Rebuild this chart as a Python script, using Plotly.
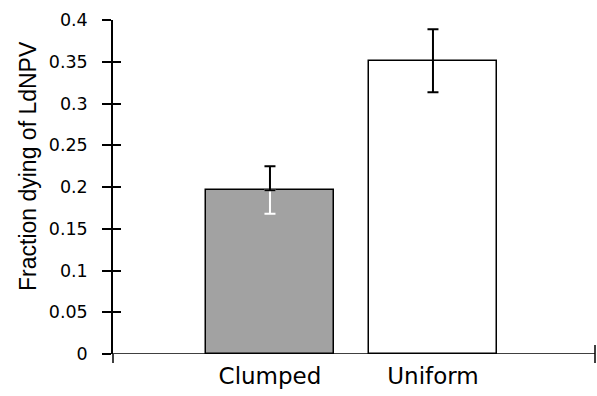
import plotly.graph_objects as go

categories = ["Clumped", "Uniform"]
values = [0.196, 0.351]
err_up = [0.029, 0.038]
err_down = [0.028, 0.0375]
bar_colors = ["#a2a2a2", "#ffffff"]
y_ticks = [0, 0.05, 0.1, 0.15, 0.2, 0.25, 0.3, 0.35, 0.4]
y_tick_text = ["0", "0.05", "0.1", "0.15", "0.2", "0.25", "0.3", "0.35", "0.4"]
y_title = "Fraction dying of LdNPV"

W, H = 597, 396
ml, mr, mt, mb = 113, 2, 20, 42
x_range = [-0.963, 1.994]

fig = go.Figure()
fig.add_trace(go.Bar(
    x=categories, y=values, width=0.785,
    marker=dict(color=bar_colors, line=dict(color="black", width=1.5)),
    showlegend=False, hoverinfo="skip",
))
# lower part of clumped error bar (white, inside the gray bar)
fig.add_trace(go.Scatter(
    x=categories[:1], y=values[:1], mode="markers",
    marker=dict(size=1, color="rgba(0,0,0,0)"),
    error_y=dict(type="data", symmetric=False, array=[0], arrayminus=err_down[:1],
                 color="white", thickness=2, width=5.5),
    showlegend=False, hoverinfo="skip",
))
# black parts of error bars
fig.add_trace(go.Scatter(
    x=categories, y=values, mode="markers",
    marker=dict(size=1, color="rgba(0,0,0,0)"),
    error_y=dict(type="data", symmetric=False, array=err_up,
                 arrayminus=[0, err_down[1]],
                 color="black", thickness=2, width=5.5),
    showlegend=False, hoverinfo="skip",
))
# invisible trace for inside ticks on y
fig.add_trace(go.Scatter(x=[None], y=[None], yaxis="y2", showlegend=False, hoverinfo="skip"))

dom_h = H - mt - mb
fig.update_layout(
    width=W, height=H,
    margin=dict(l=ml, r=mr, t=mt, b=mb, pad=0),
    paper_bgcolor="white", plot_bgcolor="white",
    bargap=0,
    xaxis=dict(type="category", range=x_range, showgrid=False, zeroline=False,
               showline=False, ticks="", tickfont=dict(family="DejaVu Sans", size=23, color="black"),
               ticklabelstandoff=6),
    yaxis=dict(range=[0, 0.4], tickvals=y_ticks, ticktext=y_tick_text,
               showgrid=False, zeroline=False, showline=True, linecolor="black", linewidth=1.5,
               ticks="outside", ticklen=9, tickwidth=1.5, tickcolor="black",
               tickfont=dict(family="DejaVu Sans", size=17.5, color="black"),
               ticklabelstandoff=11),
    yaxis2=dict(range=[0, 0.4], tickvals=y_ticks, overlaying="y", side="left",
                showgrid=False, zeroline=False, showline=False,
                ticks="inside", ticklen=8, tickwidth=1.5, tickcolor="black",
                showticklabels=False),
    annotations=[dict(text=y_title, textangle=-90, xref="paper", yref="paper",
                      x=(28 - ml) / (W - ml - mr), y=(H - mb - 166) / dom_h,
                      xanchor="center", yanchor="middle", showarrow=False,
                      font=dict(family="Liberation Sans", size=23, color="black"))],
    shapes=[
        dict(type="line", xref="paper", yref="y", x0=0, x1=1, y0=0, y1=0,
             line=dict(color="black", width=1.5)),
        dict(type="line", xref="paper", yref="paper", x0=0, x1=0, y0=-9 / dom_h, y1=0,
             line=dict(color="black", width=1.5)),
        dict(type="line", xref="paper", yref="paper", x0=1, x1=1, y0=-9 / dom_h, y1=9 / dom_h,
             line=dict(color="black", width=1.5)),
    ],
)

fig.write_html("out.html")
